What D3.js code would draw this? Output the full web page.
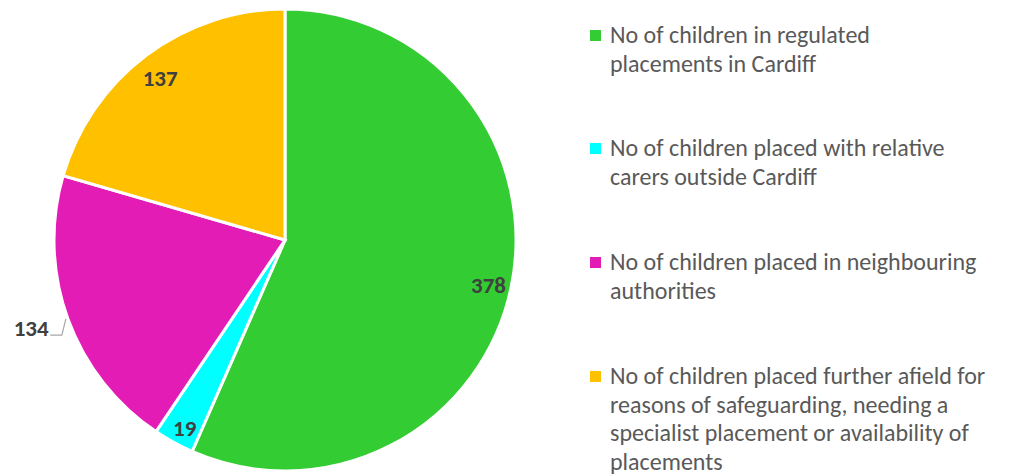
<!DOCTYPE html>
<html>
<head>
<meta charset="utf-8">
<script src="https://cdn.jsdelivr.net/npm/d3@7"></script>
<style>
  body { margin: 0; background: #fff; }
  svg { display: block; font-family: Carlito, "Open Sans", "Liberation Sans", sans-serif; }
</style>
</head>
<body>
<svg id="chart" width="1011" height="476"></svg>
<script>
// data
const categories = [
  "No of children in regulated placements in Cardiff",
  "No of children placed with relative carers outside Cardiff",
  "No of children placed in neighbouring authorities",
  "No of children placed further afield for reasons of safeguarding, needing a specialist placement or availability of placements"
];
const values = [378, 19, 134, 137];
const colours = ["#33CC33", "#00FFFF", "#E31CB5", "#FFC000"];
const legendLines = [
  ["No of children in regulated", "placements in Cardiff"],
  ["No of children placed with relative", "carers outside Cardiff"],
  ["No of children placed in neighbouring", "authorities"],
  ["No of children placed further afield for", "reasons of safeguarding, needing a", "specialist placement or availability of", "placements"]
];

const svg = d3.select("#chart");
const cx = 285, cy = 240, R = 231;

const pie = d3.pie().sort(null).value(d => d);
const arcs = pie(values);
const arc = d3.arc().innerRadius(0).outerRadius(R);

const g = svg.append("g").attr("transform", `translate(${cx},${cy})`);

g.selectAll("path").data(arcs).enter().append("path")
  .attr("d", arc)
  .attr("fill", (d, i) => colours[i])
  .attr("stroke", "#fff")
  .attr("stroke-width", 3);

// labels: inside slices at 0.9R, the magenta one outside with a leader
const inner = d3.arc().innerRadius(R * 0.9).outerRadius(R * 0.9);
function pt(a, r) { return [Math.sin(a) * r, -Math.cos(a) * r]; }

arcs.forEach((d, i) => {
  const mid = (d.startAngle + d.endAngle) / 2;
  if (i === 2) {
    const p = pt(mid, 270);
    const e = pt(mid, R);
    g.append("polyline")
      .attr("points", [[e[0] - 2, e[1]], [e[0] - 6, p[1] + 3], [p[0] + 19, p[1] + 3]].map(q => q.join(",")).join(" "))
      .attr("fill", "none").attr("stroke", "#a6a6a6").attr("stroke-width", 1.2);
    g.append("text").attr("x", p[0]).attr("y", p[1] - 4)
      .attr("text-anchor", "middle").attr("dy", "0.35em")
      .attr("font-size", 23).attr("font-weight", "bold").attr("fill", "#404040")
      .text(values[i]);
  } else {
    const c = inner.centroid(d);
    const off = i === 1 ? 6 : (i === 3 ? 4 : 2);
    g.append("text").attr("x", c[0]).attr("y", c[1] + off)
      .attr("text-anchor", "middle").attr("dy", "0.35em")
      .attr("font-size", 23).attr("font-weight", "bold").attr("fill", "#404040")
      .text(values[i]);
  }
});

// legend
const legendTop = [35, 148, 262, 376];
const lg = svg.append("g");
categories.forEach((c, i) => {
  lg.append("rect").attr("x", 590).attr("y", legendTop[i] - 5)
    .attr("width", 11).attr("height", 11).attr("fill", colours[i]);
  const t = lg.append("text").attr("x", 610).attr("y", legendTop[i])
    .attr("font-size", 24).attr("fill", "#595959");
  legendLines[i].forEach((l, j) => {
    t.append("tspan").attr("x", 610).attr("dy", j === 0 ? "0.35em" : 28.5).text(l);
  });
});
</script>
</body>
</html>
